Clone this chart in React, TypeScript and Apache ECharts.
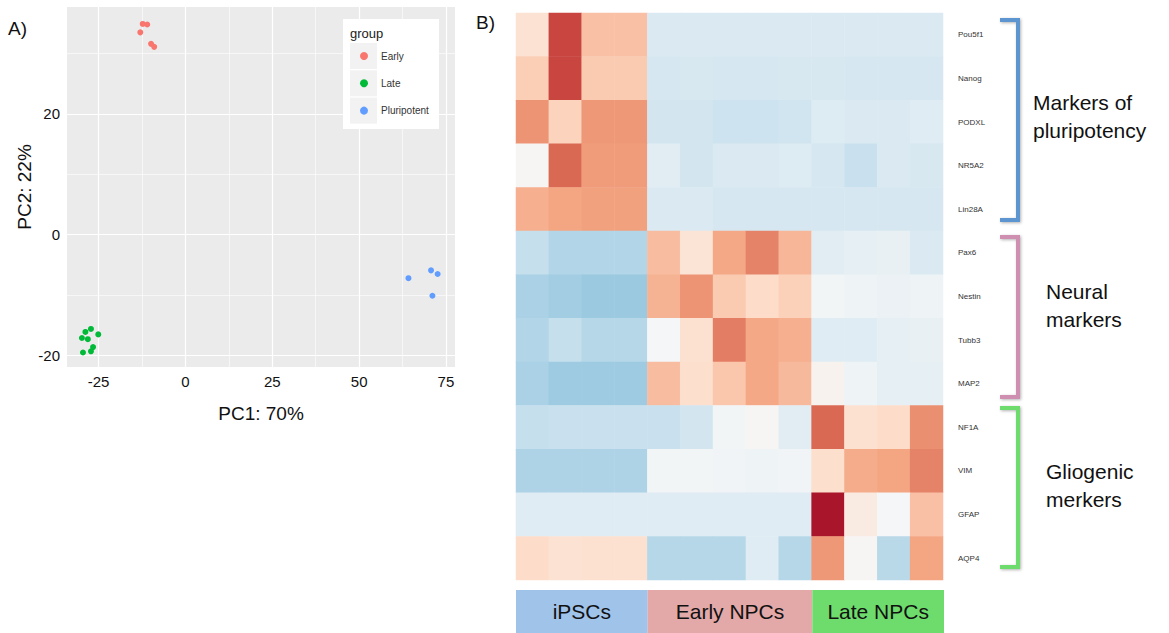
import React, { useEffect, useRef } from "react";
import * as echarts from "echarts";

// ---------- PCA data ----------
const pcaGroups = ["Early", "Late", "Pluripotent"];
const pcaColors = ["#F8766D", "#00BA38", "#619CFF"];
const earlyPC1 = [-12.3, -11.0, -13.0, -9.9, -9.0];
const earlyPC2 = [34.9, 34.8, 33.5, 31.6, 31.1];
const latePC1 = [-27.2, -28.8, -29.8, -28.1, -25.1, -26.6, -27.2, -29.5];
const latePC2 = [-15.6, -16.1, -17.1, -17.3, -16.5, -18.6, -19.3, -19.5];
const pluriPC1 = [64.2, 70.7, 72.6, 71.1];
const pluriPC2 = [-7.2, -5.9, -6.5, -10.1];
const xTicks = [-25, 0, 25, 50, 75];
const xMinor = [-12.5, 12.5, 37.5, 62.5];
const yTicks = [-20, 0, 20];
const yMinor = [-10, 10, 30];

// ---------- Heatmap data ----------
const genes = ["Pou5f1", "Nanog", "PODXL", "NR5A2", "Lin28A", "Pax6", "Nestin", "Tubb3", "MAP2", "NF1A", "VIM", "GFAP", "AQP4"];
const samples = ["iPSC1", "iPSC2", "iPSC3", "iPSC4", "E1", "E2", "E3", "E4", "E5", "L1", "L2", "L3", "L4"];
const pou5f1 = [0.6, 2.7, 1.2, 1.2, -0.6, -0.6, -0.6, -0.6, -0.6, -0.6, -0.6, -0.6, -0.6];
const nanog = [1.0, 2.7, 1.05, 1.05, -0.7, -0.65, -0.7, -0.7, -0.65, -0.65, -0.7, -0.7, -0.7];
const podxl = [1.8, 0.9, 1.75, 1.75, -0.75, -0.75, -0.85, -0.85, -0.8, -0.55, -0.6, -0.6, -0.5];
const nr5a2 = [0.05, 2.3, 1.7, 1.7, -0.45, -0.75, -0.6, -0.6, -0.55, -0.7, -0.9, -0.6, -0.65];
const lin28a = [1.45, 1.6, 1.65, 1.65, -0.6, -0.6, -0.7, -0.7, -0.7, -0.7, -0.7, -0.7, -0.7];
const pax6 = [-0.95, -1.2, -1.2, -1.2, 1.25, 0.55, 1.55, 2.0, 1.35, -0.45, -0.35, -0.3, -0.6];
const nestin = [-1.3, -1.4, -1.5, -1.5, 1.4, 1.8, 1.05, 0.75, 0.95, -0.1, -0.2, -0.25, -0.2];
const tubb3 = [-1.2, -0.95, -1.15, -1.15, -0.05, 0.65, 2.05, 1.55, 1.45, -0.5, -0.5, -0.35, -0.3];
const map2 = [-1.3, -1.45, -1.45, -1.45, 1.25, 0.7, 1.1, 1.55, 1.3, 0.15, -0.2, -0.35, -0.35];
const nf1a = [-0.95, -0.9, -0.9, -0.9, -0.9, -0.75, -0.1, 0.05, -0.45, 2.3, 0.65, 0.75, 1.85];
const vim = [-1.25, -1.25, -1.25, -1.25, -0.1, -0.1, -0.15, -0.2, -0.15, 0.7, 1.5, 1.6, 2.0];
const gfap = [-0.5, -0.5, -0.5, -0.5, -0.5, -0.5, -0.5, -0.5, -0.5, 3.3, 0.35, -0.05, 1.2];
const aqp4 = [0.75, 0.6, 0.65, 0.65, -1.15, -1.15, -1.15, -0.5, -1.15, 1.75, 0.05, -1.1, 1.6];
const expression = [pou5f1, nanog, podxl, nr5a2, lin28a, pax6, nestin, tubb3, map2, nf1a, vim, gfap, aqp4];

const sampleGroupNames = ["iPSCs", "Early NPCs", "Late NPCs"];
const sampleGroupSizes = [4, 5, 4];
const sampleGroupColors = ["#A0C3EA", "#E3A8A8", "#6EDC6C"];

const geneSetNames = ["Markers of\npluripotency", "Neural\nmarkers", "Gliogenic\nmerkers"];
const geneSetColors = ["#5B95CF", "#CF8FB0", "#6EDC6C"];

const rdbu = ["#053061", "#2166ac", "#4393c3", "#92c5de", "#d1e5f0", "#f7f7f7", "#fddbc7", "#f4a582", "#d6604d", "#b2182b", "#67001f"];

const FONT = "'Liberation Sans', Arial, Helvetica, sans-serif";

export default function App() {
  const ref = useRef<HTMLDivElement>(null);
  useEffect(() => {
    if (!ref.current) return;
    const chart = echarts.init(ref.current, null, { renderer: "svg" });

    const zip = (a: number[], b: number[]) => a.map((v, i) => [v, b[i]]);
    const pcaData = [zip(earlyPC1, earlyPC2), zip(latePC1, latePC2), zip(pluriPC1, pluriPC2)];

    const heatData: number[][] = [];
    expression.forEach((row, r) => row.forEach((v, c) => heatData.push([c, r, v])));

    const groupRanges: number[][] = [];
    let acc = 0;
    sampleGroupSizes.forEach((n) => {
      groupRanges.push([acc, acc + n]);
      acc += n;
    });

    const gridLineMark = (xs: number[], ys: number[], w: number) => ({
      silent: true,
      symbol: ["none", "none"],
      label: { show: false },
      lineStyle: { color: "#ffffff", width: w, type: "solid" },
      data: [...xs.map((x) => ({ xAxis: x })), ...ys.map((y) => ({ yAxis: y }))],
    });

    // legend graphic
    const legendChildren: any[] = [
      { type: "rect", shape: { x: 343, y: 19, width: 96, height: 110 }, style: { fill: "#ffffff" } },
      { type: "text", style: { x: 350, y: 33, text: "group", font: `13px ${FONT}`, fill: "#222", verticalAlign: "middle" } },
    ];
    pcaGroups.forEach((g, i) => {
      const cy = 56 + i * 27.3;
      legendChildren.push({ type: "rect", shape: { x: 350, y: cy - 13, width: 27, height: 26 }, style: { fill: "#F2F2F2" } });
      legendChildren.push({ type: "circle", shape: { cx: 364, cy, r: 4 }, style: { fill: pcaColors[i] } });
      legendChildren.push({ type: "text", style: { x: 381, y: cy, text: g, font: `10px ${FONT}`, fill: "#333", verticalAlign: "middle" } });
    });

    const brackets = [
      [20, 220],
      [237, 397],
      [408, 567],
    ];
    const bracketEls: any[] = brackets.map((b, i) => ({
      type: "polyline",
      shape: { points: [[1000, b[0]], [1018, b[0]], [1018, b[1]], [1000, b[1]]] },
      style: { stroke: geneSetColors[i], lineWidth: 4, fill: null, shadowBlur: 3, shadowColor: "rgba(0,0,0,0.3)", shadowOffsetX: 1, shadowOffsetY: 1 },
    }));
    const setLabelPos = [
      [1033, 116],
      [1046, 305],
      [1046, 485],
    ];
    const setLabelEls: any[] = geneSetNames.map((t, i) => ({
      type: "text",
      style: { x: setLabelPos[i][0], y: setLabelPos[i][1], text: t, font: `21px ${FONT}`, fill: "#111", verticalAlign: "middle", lineHeight: 28 },
    }));

    chart.setOption({
      animation: false,
      textStyle: { fontFamily: FONT },
      grid: [
        { left: 67, top: 7, width: 388, height: 360, show: true, backgroundColor: "#EBEBEB", borderWidth: 0 },
        { left: 516, top: 13, width: 427, height: 567 },
        { left: 516, top: 590, width: 428, height: 43 },
      ],
      xAxis: [
        {
          gridIndex: 0, type: "value", min: -34.1, max: 77.6,
          axisLine: { show: false },
          axisTick: { show: true, length: 4, lineStyle: { color: "#333" }, customValues: xTicks },
          axisLabel: { fontSize: 15, color: "#111", margin: 7, customValues: xTicks },
          splitLine: { show: false },
          name: "PC1: 70%", nameLocation: "middle", nameGap: 37,
          nameTextStyle: { fontSize: 19, color: "#111" },
        },
        { gridIndex: 1, type: "category", data: samples, show: false },
        { gridIndex: 2, type: "value", min: 0, max: samples.length, show: false },
      ],
      yAxis: [
        {
          gridIndex: 0, type: "value", min: -21.9, max: 37.7,
          axisLine: { show: false },
          axisTick: { show: true, length: 4, lineStyle: { color: "#333" }, customValues: yTicks },
          axisLabel: { fontSize: 15, color: "#111", margin: 7, customValues: yTicks },
          splitLine: { show: false },
          name: "PC2: 22%", nameLocation: "middle", nameGap: 33, nameRotate: 90,
          nameTextStyle: { fontSize: 19, color: "#111" },
        },
        {
          gridIndex: 1, type: "category", data: genes, inverse: true, position: "right",
          axisLine: { show: false }, axisTick: { show: false },
          axisLabel: { fontSize: 8, color: "#333", margin: 15 },
        },
        { gridIndex: 2, type: "value", min: 0, max: 1, show: false },
      ],
      visualMap: {
        show: false, type: "continuous", min: -4, max: 4, seriesIndex: 3,
        inRange: { color: rdbu },
      },
      series: [
        ...pcaData.map((d, i) => ({
          type: "scatter", xAxisIndex: 0, yAxisIndex: 0, name: pcaGroups[i],
          data: d, symbolSize: 6, itemStyle: { color: pcaColors[i], opacity: 1 },
          markLine: i === 0 ? gridLineMark(xMinor, yMinor, 0.6) : i === 1 ? gridLineMark(xTicks, yTicks, 1.2) : undefined,
          z: 5,
        })),
        {
          type: "heatmap", xAxisIndex: 1, yAxisIndex: 1, data: heatData,
          itemStyle: { borderWidth: 0 },
        },
        {
          type: "custom", xAxisIndex: 2, yAxisIndex: 2, data: groupRanges,
          renderItem: (params: any, api: any) => {
            const s = api.coord([api.value(0), 1]);
            const e = api.coord([api.value(1), 0]);
            const idx = params.dataIndex;
            return {
              type: "group",
              children: [
                { type: "rect", shape: { x: s[0], y: s[1], width: e[0] - s[0], height: e[1] - s[1] }, style: { fill: sampleGroupColors[idx] } },
                {
                  type: "text",
                  style: { x: (s[0] + e[0]) / 2, y: (s[1] + e[1]) / 2, text: sampleGroupNames[idx], align: "center", verticalAlign: "middle", font: `21px ${FONT}`, fill: "#111" },
                },
              ],
            };
          },
        },
      ],
      graphic: [
        { type: "text", style: { x: 8, y: 28, text: "A)", font: `19px ${FONT}`, fill: "#111", verticalAlign: "middle" } },
        { type: "text", style: { x: 476, y: 22, text: "B)", font: `19px ${FONT}`, fill: "#111", verticalAlign: "middle" } },
        { type: "group", z: 100, children: legendChildren.map((c) => ({ ...c, z: 100 })) },
        ...bracketEls,
        ...setLabelEls,
      ],
    });
    return () => chart.dispose();
  }, []);
  return <div ref={ref} style={{ position: "fixed", left: 0, top: 0, width: 1169, height: 633, background: "#fff" }} />;
}
